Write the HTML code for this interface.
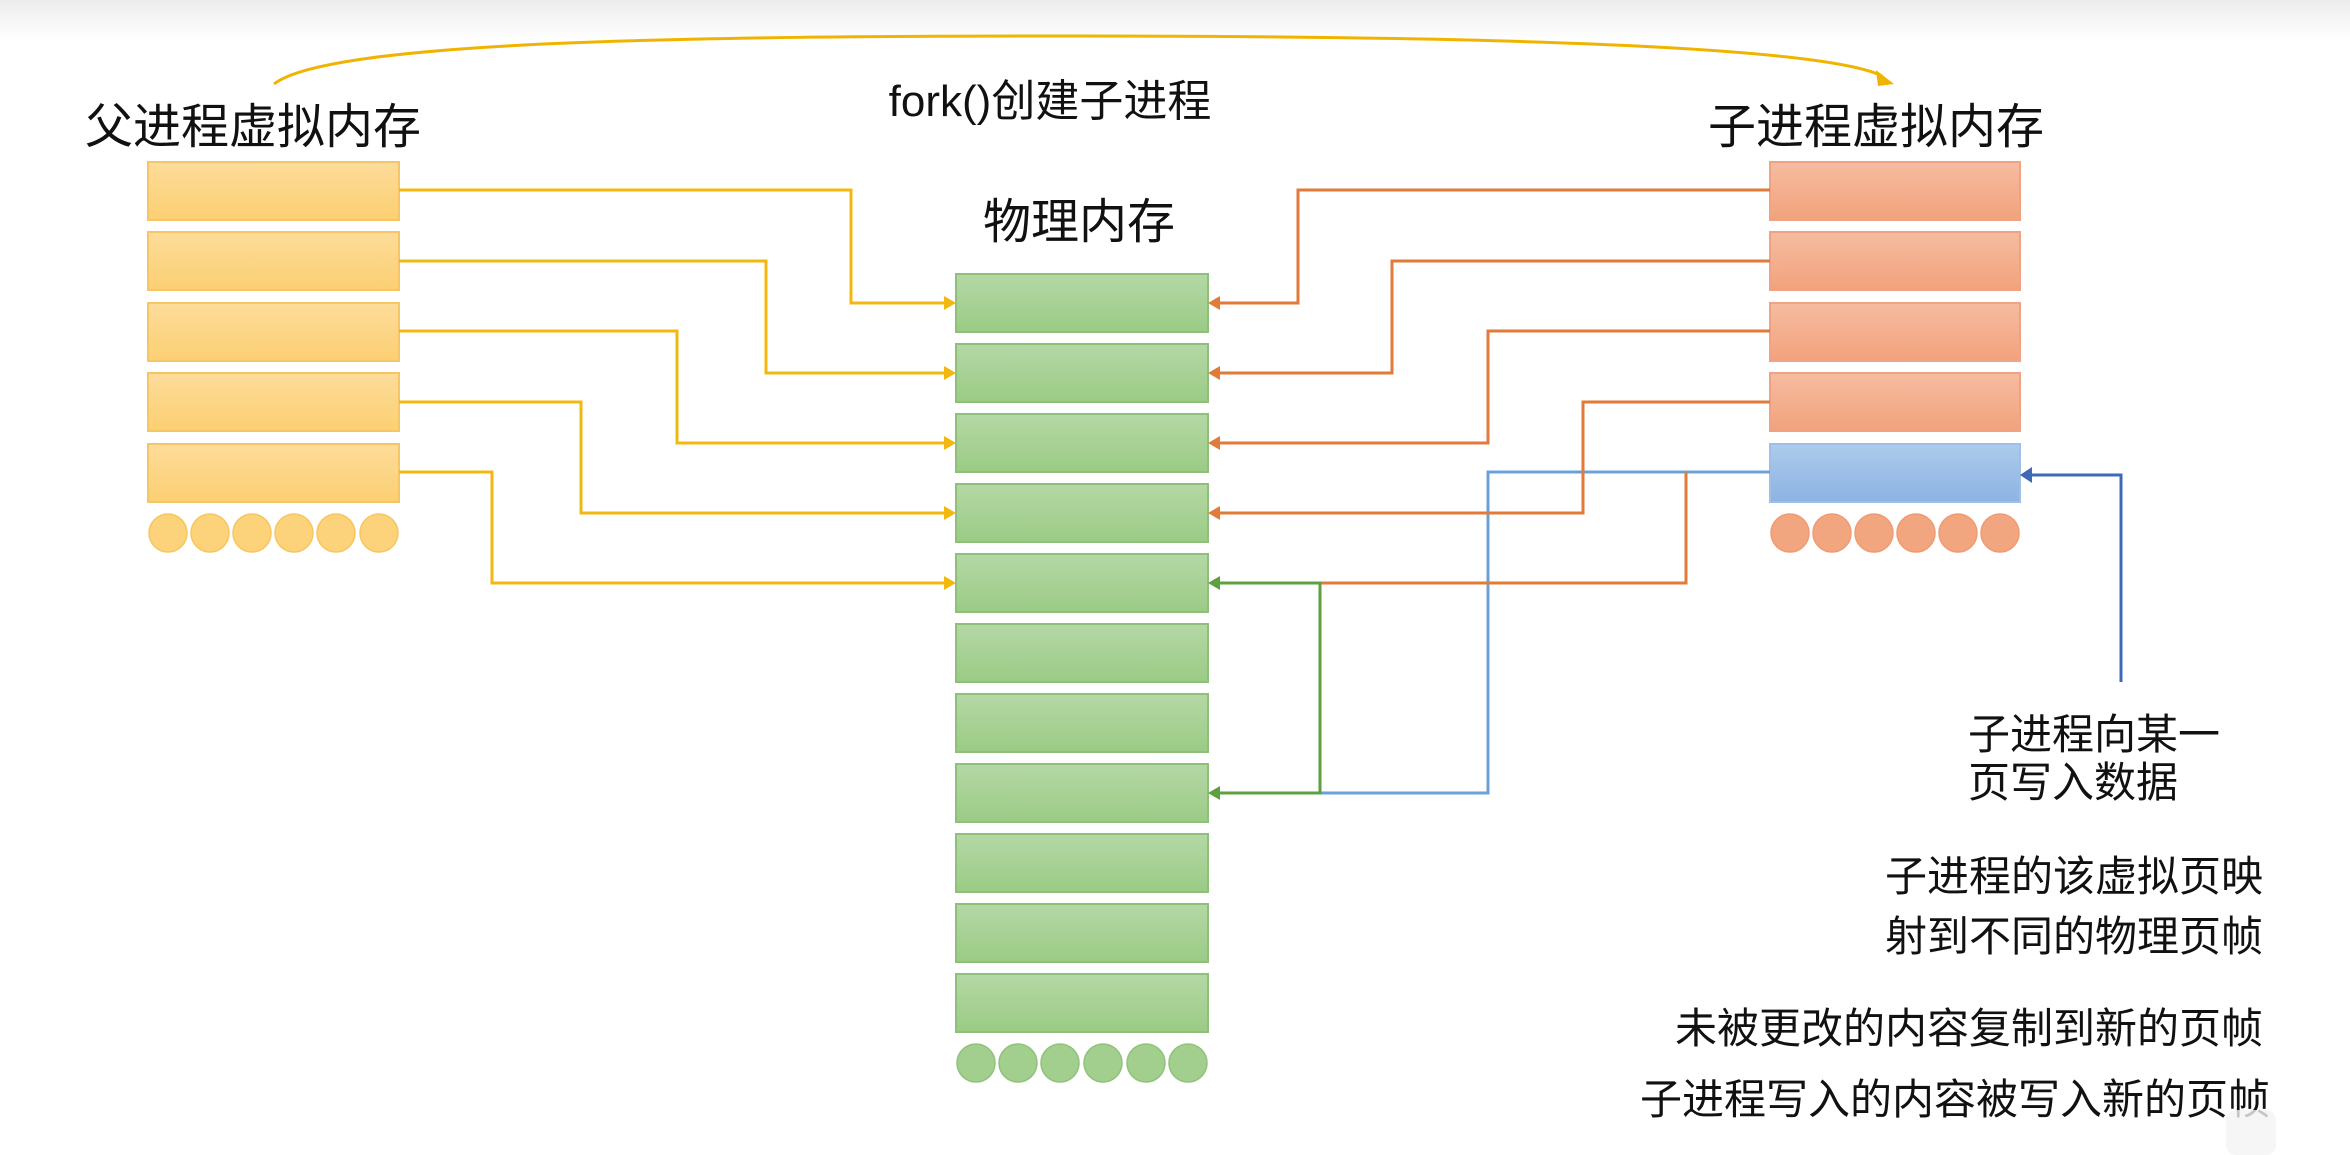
<!DOCTYPE html>
<html><head><meta charset="utf-8"><style>
html,body{margin:0;padding:0;background:#fff;}
svg{display:block;}
text{font-family:"Liberation Sans","Noto Sans CJK SC",sans-serif;fill:#111;}
</style></head><body>
<svg width="2350" height="1155" viewBox="0 0 2350 1155" xmlns="http://www.w3.org/2000/svg">
<defs>
<linearGradient id="bg" x1="0" y1="0" x2="0" y2="1"><stop offset="0" stop-color="#ececec"/><stop offset="1" stop-color="#ffffff"/></linearGradient>
<linearGradient id="gy" x1="0" y1="0" x2="0" y2="1"><stop offset="0" stop-color="#fddc9a"/><stop offset="1" stop-color="#fccf72"/></linearGradient>
<linearGradient id="go" x1="0" y1="0" x2="0" y2="1"><stop offset="0" stop-color="#f6bca0"/><stop offset="1" stop-color="#f2a27c"/></linearGradient>
<linearGradient id="gb" x1="0" y1="0" x2="0" y2="1"><stop offset="0" stop-color="#adcbec"/><stop offset="1" stop-color="#8db3e2"/></linearGradient>
<linearGradient id="gg" x1="0" y1="0" x2="0" y2="1"><stop offset="0" stop-color="#b5d8a6"/><stop offset="1" stop-color="#9bcb85"/></linearGradient>
</defs>
<rect x="0" y="0" width="2350" height="40" fill="url(#bg)"/>

<!-- fork arc -->
<path d="M274 84 C 330 40, 700 36, 1080 36 C 1460 36, 1820 45, 1882 76" fill="none" stroke="#f0b400" stroke-width="3"/>
<polygon points="1876,70 1894,84 1878,86" fill="#f0b400"/>

<text x="1050" y="116" font-size="44" text-anchor="middle">fork()创建子进程</text>
<text x="85" y="143" font-size="48">父进程虚拟内存</text>
<text x="1708" y="143" font-size="48">子进程虚拟内存</text>
<text x="1079" y="238" font-size="48" text-anchor="middle">物理内存</text>

<!-- parent boxes -->
<g fill="url(#gy)" stroke="#f5c566" stroke-width="2">
<rect x="148" y="162" width="251" height="58"/>
<rect x="148" y="232" width="251" height="58"/>
<rect x="148" y="303" width="251" height="58"/>
<rect x="148" y="373" width="251" height="58"/>
<rect x="148" y="444" width="251" height="58"/>
</g>
<g fill="#fcd27a" stroke="#f7c660" stroke-width="1.5">
<ellipse cx="168" cy="533" rx="19" ry="19"/><ellipse cx="210" cy="533" rx="19" ry="19"/><ellipse cx="252" cy="533" rx="19" ry="19"/><ellipse cx="294" cy="533" rx="19" ry="19"/><ellipse cx="336" cy="533" rx="19" ry="19"/><ellipse cx="379" cy="533" rx="19" ry="19"/>
</g>

<!-- child boxes -->
<g fill="url(#go)" stroke="#eea385" stroke-width="2">
<rect x="1770" y="162" width="250" height="58"/>
<rect x="1770" y="232" width="250" height="58"/>
<rect x="1770" y="303" width="250" height="58"/>
<rect x="1770" y="373" width="250" height="58"/>
</g>
<rect x="1770" y="444" width="250" height="58" fill="url(#gb)" stroke="#9fc0e6" stroke-width="2"/>
<g fill="#f2a680" stroke="#f09a72" stroke-width="1.5">
<ellipse cx="1790" cy="533" rx="19" ry="19"/><ellipse cx="1832" cy="533" rx="19" ry="19"/><ellipse cx="1874" cy="533" rx="19" ry="19"/><ellipse cx="1916" cy="533" rx="19" ry="19"/><ellipse cx="1958" cy="533" rx="19" ry="19"/><ellipse cx="2000" cy="533" rx="19" ry="19"/>
</g>

<!-- physical boxes -->
<g fill="url(#gg)" stroke="#8fc07a" stroke-width="2">
<rect x="956" y="274" width="252" height="58"/>
<rect x="956" y="344" width="252" height="58"/>
<rect x="956" y="414" width="252" height="58"/>
<rect x="956" y="484" width="252" height="58"/>
<rect x="956" y="554" width="252" height="58"/>
<rect x="956" y="624" width="252" height="58"/>
<rect x="956" y="694" width="252" height="58"/>
<rect x="956" y="764" width="252" height="58"/>
<rect x="956" y="834" width="252" height="58"/>
<rect x="956" y="904" width="252" height="58"/>
<rect x="956" y="974" width="252" height="58"/>
</g>
<g fill="#a3cf8e" stroke="#90c27a" stroke-width="1.5">
<ellipse cx="976" cy="1063" rx="19" ry="19"/><ellipse cx="1018" cy="1063" rx="19" ry="19"/><ellipse cx="1060" cy="1063" rx="19" ry="19"/><ellipse cx="1103" cy="1063" rx="19" ry="19"/><ellipse cx="1146" cy="1063" rx="19" ry="19"/><ellipse cx="1188" cy="1063" rx="19" ry="19"/>
</g>

<!-- yellow connectors -->
<g fill="none" stroke="#f2b80f" stroke-width="3">
<polyline points="399,190 851,190 851,303 946,303"/>
<polyline points="399,261 766,261 766,373 946,373"/>
<polyline points="399,331 677,331 677,443 946,443"/>
<polyline points="399,402 581,402 581,513 946,513"/>
<polyline points="399,472 492,472 492,583 946,583"/>
</g>
<g fill="#f2b80f">
<polygon points="944,296 956,303 944,310"/><polygon points="944,366 956,373 944,380"/><polygon points="944,436 956,443 944,450"/><polygon points="944,506 956,513 944,520"/><polygon points="944,576 956,583 944,590"/>
</g>

<!-- blue lines -->
<polyline points="1770,472 1488,472 1488,793 1320,793" fill="none" stroke="#6aa2d8" stroke-width="3"/>
<polyline points="2121,682 2121,475 2030,475" fill="none" stroke="#3e68b8" stroke-width="3"/>
<polygon points="2032,467 2020,475 2032,483" fill="#3e68b8"/>

<!-- orange connectors -->
<g fill="none" stroke="#e07b39" stroke-width="3">
<polyline points="1770,190 1298,190 1298,303 1218,303"/>
<polyline points="1770,261 1392,261 1392,373 1218,373"/>
<polyline points="1770,331 1488,331 1488,443 1218,443"/>
<polyline points="1770,402 1583,402 1583,513 1218,513"/>
<polyline points="1686,472 1686,583 1320,583"/>
</g>
<g fill="#e07b39">
<polygon points="1220,296 1208,303 1220,310"/><polygon points="1220,366 1208,373 1220,380"/><polygon points="1220,436 1208,443 1220,450"/><polygon points="1220,506 1208,513 1220,520"/>
</g>

<!-- green connectors -->
<g fill="none" stroke="#5ea040" stroke-width="3">
<polyline points="1218,583 1320,583 1320,793 1218,793"/>
</g>
<g fill="#5ea040">
<polygon points="1220,576 1208,583 1220,590"/><polygon points="1220,786 1208,793 1220,800"/>
</g>

<!-- right texts -->
<text x="1968" y="749" font-size="42">子进程向某一</text>
<text x="1968" y="797" font-size="42">页写入数据</text>
<text x="2263" y="891" font-size="42" text-anchor="end">子进程的该虚拟页映</text>
<text x="2263" y="951" font-size="42" text-anchor="end">射到不同的物理页帧</text>
<text x="2263" y="1043" font-size="42" text-anchor="end">未被更改的内容复制到新的页帧</text>
<text x="2270" y="1114" font-size="42" text-anchor="end">子进程写入的内容被写入新的页帧</text>
<rect x="2226" y="1110" width="50" height="45" rx="10" fill="#f4f4f4" opacity="0.8"/>
</svg>
</body></html>
